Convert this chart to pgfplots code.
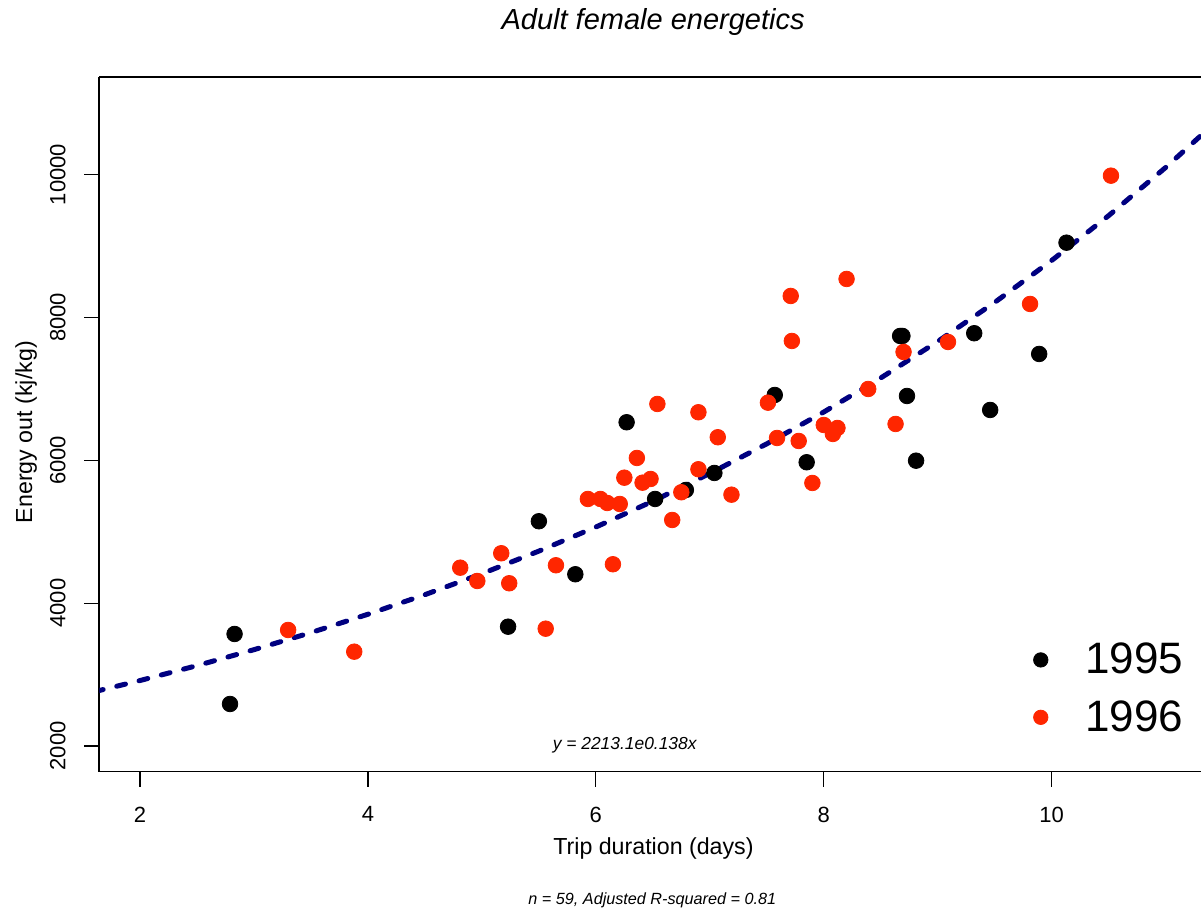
\documentclass[border=0pt]{standalone}
\usepackage{fontspec}
\setmainfont{Liberation Sans}
\usepackage{pgfplots}
\pgfplotsset{compat=1.18}
\definecolor{fitblue}{RGB}{0,0,128}
\definecolor{pred}{RGB}{255,38,0}
\begin{document}
\begin{tikzpicture}
\begin{axis}[
  at={(0,0)}, anchor=south west,
  scale only axis, width=550.85pt, height=347.2pt,
  xmin=1.643, xmax=11.31, ymin=1640, ymax=11361,
  axis x line*=box, axis y line*=left,
  axis line style={-, line width=0.8pt},
  tick pos=left, tick align=outside, major tick length=7.5pt,
  tick style={black, line width=0.6pt},
  xtick={2,4,6,8,10}, ytick={2000,4000,6000,8000,10000},
  scaled ticks=false,
  /pgf/number format/assume math mode=true,
  /pgf/number format/1000 sep={},
  ticklabel style={font=\fontsize{11}{13}\selectfont},
  xticklabel style={yshift=-6.5pt},
  yticklabel style={rotate=90, anchor=south, inner sep=9.2pt},
  xlabel={Trip duration (days)},
  xlabel style={font=\fontsize{11.6}{14}\selectfont, at={(axis description cs:0.503,-0.1099)}, anchor=center},
  ylabel={Energy out (kj/kg)},
  ylabel style={font=\fontsize{11.6}{14}\selectfont, at={(axis description cs:-0.0665,0.489)}, anchor=center},
  legend style={draw=none, fill=none, at={(axis description cs:0.8473,0.2102)}, anchor=north west,
    inner sep=0pt, outer sep=0pt, row sep=4.7pt, column sep=0pt,
    font=\fontsize{22}{26}\selectfont, nodes={inner sep=0pt, text height=16pt, text depth=0pt}},
  legend image code/.code={\draw[#1, mark size=3.6pt] plot coordinates {(0pt,-1.1pt)}; \path[draw=none, fill=none] (-4pt,0pt) rectangle (22.15pt,16pt);},
]
\addplot[only marks, mark=*, mark size=3.9pt, mark options={draw=black, fill=black}] coordinates {
(2.79,2588) (2.83,3568) (5.23,3670) (5.50,5146) (5.82,4404) (6.27,6532)
(6.52,5458) (6.79,5584) (7.04,5822) (7.57,6914) (7.85,5972) (8.67,7740)
(8.69,7740) (8.73,6900) (8.81,5994) (9.32,7778) (9.46,6704) (9.89,7488)
(10.13,9046)
};
\addlegendentry{1995}
\addplot[only marks, mark=*, mark size=3.9pt, mark options={draw=pred, fill=pred}] coordinates {
(3.30,3624) (3.88,3320) (4.81,4496) (4.96,4310) (5.17,4698) (5.24,4278)
(5.56,3642) (5.65,4530) (5.93,5458) (6.04,5458) (6.10,5402) (6.15,4544)
(6.21,5388) (6.25,5756) (6.36,6032) (6.41,5686) (6.48,5738) (6.54,6788)
(6.67,5164) (6.75,5552) (6.90,6672) (6.90,5874) (7.07,6322) (7.19,5518)
(7.51,6806) (7.59,6312) (7.71,8300) (7.72,7670) (7.78,6270) (7.90,5682)
(8.00,6494) (8.08,6368) (8.12,6452) (8.20,8538) (8.39,6998) (8.63,6508)
(8.70,7516) (9.09,7656) (9.81,8188) (10.52,9984)
};
\addlegendentry{1996}
\addplot[fitblue, line width=2.5pt, dash pattern=on 4.5pt off 7pt, line cap=round, forget plot] coordinates {
(1.6,2760) (2.0,2916) (2.5,3125) (3.0,3348) (3.5,3587) (4.0,3844) (4.5,4118)
(5.0,4412) (5.5,4728) (6.0,5065) (6.5,5427) (7.0,5815) (7.5,6230) (8.0,6675)
(8.5,7152) (9.0,7663) (9.5,8210) (10.0,8797) (10.5,9425) (11.0,10099) (11.5,10820)
};
\node[font=\fontsize{8.7}{10}\selectfont\itshape] at (axis description cs:0.4769,0.0385) {y = 2213.1e0.138x};
\end{axis}
\node[font=\fontsize{14.5}{17}\selectfont\itshape] at (276.9pt,374.85pt) {Adult female energetics};
\node[font=\fontsize{8.1}{10}\selectfont\itshape] at (276.5pt,-64.15pt) {n = 59, Adjusted R-squared = 0.81};
\pgfresetboundingbox
\path[use as bounding box] (-49.65pt,-69.15pt) rectangle (550.85pt,385.85pt);
\end{tikzpicture}
\end{document}
